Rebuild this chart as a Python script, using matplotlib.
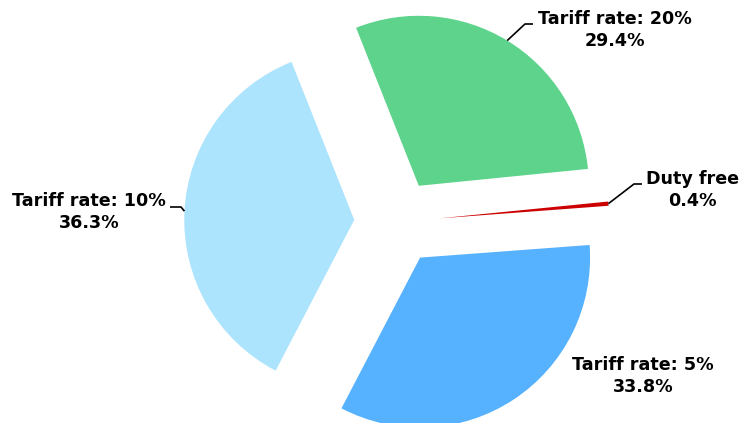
import numpy as np
import matplotlib
matplotlib.use("Agg")
import matplotlib.pyplot as plt

# Share of imports by tariff band
categories = ["Duty free", "Tariff rate: 5%", "Tariff rate: 10%", "Tariff rate: 20%"]
shares = [0.4, 33.8, 36.3, 29.4]
colors = ["#cc0000", "#56b1fe", "#ace3fd", "#5dd38b"]

W, H = 741, 423
fig = plt.figure(figsize=(W / 100, H / 100), dpi=100)
ax = fig.add_axes([0, 0, 1, 1])

R = 170
wedges, _ = ax.pie(
    shares,
    colors=colors,
    startangle=5.7,
    counterclock=False,
    explode=[0.25 * R] * len(shares),
    radius=R,
    center=(396.7, H - 222.1),
    wedgeprops=dict(linewidth=0),
    normalize=True,
)
ax.set_xlim(0, W)
ax.set_ylim(0, H)
ax.set_aspect("equal")
ax.axis("off")

# Label layout: text centre (x, y) and optional elbow/end points of the leader line
layout = {
    "Duty free": dict(xy=(692.5, H - 190), elbow=(634, H - 184), end=(642, H - 184)),
    "Tariff rate: 5%": dict(xy=(643, H - 376), elbow=None, end=None),
    "Tariff rate: 10%": dict(xy=(89, H - 212), elbow=(181, H - 207), end=(170, H - 207)),
    "Tariff rate: 20%": dict(xy=(614.5, H - 30), elbow=(525, H - 24), end=(533, H - 24)),
}

for w, cat, val in zip(wedges, categories, shares):
    lay = layout[cat]
    mid = np.deg2rad((w.theta1 + w.theta2) / 2)
    cx, cy = w.center
    anchor = (cx + w.r * np.cos(mid), cy + w.r * np.sin(mid))
    if lay["elbow"] is not None:
        xs = [anchor[0], lay["elbow"][0], lay["end"][0]]
        ys = [anchor[1], lay["elbow"][1], lay["end"][1]]
        ax.plot(xs, ys, color="#000000", lw=1.2, solid_capstyle="butt")
    ax.text(lay["xy"][0], lay["xy"][1], f"{cat}\n{val:.1f}%",
            ha="center", va="center", fontsize=12.6, fontweight="bold",
            color="#000000", linespacing=1.25, family="DejaVu Sans")

fig.savefig("out.png", dpi=100)
